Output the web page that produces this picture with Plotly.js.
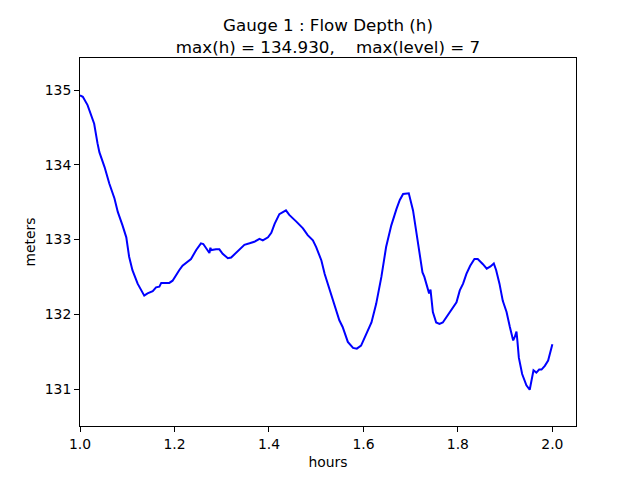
<!DOCTYPE html>
<html>
<head>
<meta charset="utf-8">
<script src="https://cdn.plot.ly/plotly-3.0.1.min.js"></script>
<style>html,body{margin:0;padding:0;background:#fff;}#chart{width:640px;height:480px;}</style>
</head>
<body>
<div id="chart"></div>
<script>
const hours = [1.000,1.006,1.016,1.027,1.030,1.037,1.041,1.052,1.062,1.073,1.080,1.090,1.098,1.104,1.111,1.122,1.133,1.136,1.143,1.154,1.161,1.168,1.172,1.179,1.189,1.196,1.203,1.210,1.217,1.228,1.235,1.246,1.256,1.261,1.270,1.274,1.276,1.278,1.288,1.295,1.302,1.313,1.320,1.331,1.341,1.348,1.359,1.369,1.380,1.387,1.398,1.405,1.412,1.422,1.436,1.443,1.458,1.472,1.482,1.493,1.500,1.511,1.518,1.528,1.539,1.549,1.556,1.567,1.578,1.586,1.595,1.606,1.617,1.627,1.638,1.648,1.659,1.670,1.677,1.684,1.696,1.705,1.712,1.719,1.725,1.729,1.736,1.739,1.742,1.744,1.747,1.754,1.761,1.768,1.779,1.789,1.797,1.804,1.811,1.818,1.826,1.835,1.842,1.853,1.861,1.869,1.876,1.881,1.888,1.895,1.903,1.910,1.917,1.920,1.924,1.926,1.929,1.936,1.945,1.952,1.958,1.960,1.966,1.972,1.977,1.984,1.991,1.996,2.000];
const depth = [134.93,134.91,134.80,134.62,134.55,134.29,134.17,133.97,133.75,133.55,133.37,133.19,133.03,132.77,132.59,132.41,132.27,132.25,132.28,132.31,132.36,132.37,132.42,132.42,132.42,132.45,132.53,132.59,132.65,132.70,132.74,132.86,132.95,132.94,132.86,132.82,132.89,132.86,132.87,132.87,132.81,132.75,132.76,132.83,132.88,132.93,132.95,132.97,133.01,132.99,133.03,133.09,133.21,133.34,133.39,133.33,133.24,133.15,133.06,132.99,132.90,132.72,132.54,132.34,132.10,131.92,131.83,131.63,131.55,131.54,131.58,131.74,131.89,132.14,132.50,132.90,133.19,133.41,133.53,133.61,133.62,133.39,133.12,132.83,132.56,132.50,132.34,132.28,132.33,132.21,132.03,131.89,131.87,131.89,131.99,132.07,132.16,132.32,132.41,132.54,132.65,132.74,132.74,132.67,132.61,132.64,132.68,132.59,132.41,132.18,132.03,131.83,131.65,131.69,131.77,131.64,131.42,131.20,131.05,130.99,131.16,131.25,131.22,131.26,131.26,131.31,131.38,131.49,131.60];
const xTicks = [1.0,1.2,1.4,1.6,1.8,2.0];
const xTickText = ["1.0","1.2","1.4","1.6","1.8","2.0"];
const yTicks = [131,132,133,134,135];
const titleText = "Gauge 1 : Flow Depth (h)<br>max(h) = 134.930,\u00a0\u00a0\u00a0\u00a0max(level) = 7";

const font = "DejaVu Sans, sans-serif";
const axisCommon = {
  showgrid: false, zeroline: false, showline: true, mirror: true,
  linecolor: "#000", linewidth: 1, ticks: "outside", ticklen: 5, tickwidth: 1,
  tickcolor: "#000", tickfont: {family: font, size: 13.9, color: "#000"}
};
Plotly.newPlot("chart", [{
  x: hours, y: depth, type: "scatter", mode: "lines",
  line: {color: "#0000ff", width: 2}
}], {
  width: 640, height: 480,
  margin: {l: 80, r: 64, t: 58, b: 54},
  paper_bgcolor: "#fff", plot_bgcolor: "#fff",
  showlegend: false,
  title: {text: titleText, font: {family: font, size: 16.7, color: "#000"},
    x: 0.5125, xanchor: "center", y: 0.935, yref: "container", yanchor: "top"},
  xaxis: Object.assign({}, axisCommon, {range: [1.0, 2.05], tickvals: xTicks, ticktext: xTickText,
    title: {text: "hours", font: {family: font, size: 13.9, color: "#000"}, standoff: 6}}),
  yaxis: Object.assign({}, axisCommon, {range: [130.505, 135.43], tickvals: yTicks,
    title: {text: "meters", font: {family: font, size: 13.9, color: "#000"}, standoff: 5}})
}, {staticPlot: true});
</script>
</body>
</html>
